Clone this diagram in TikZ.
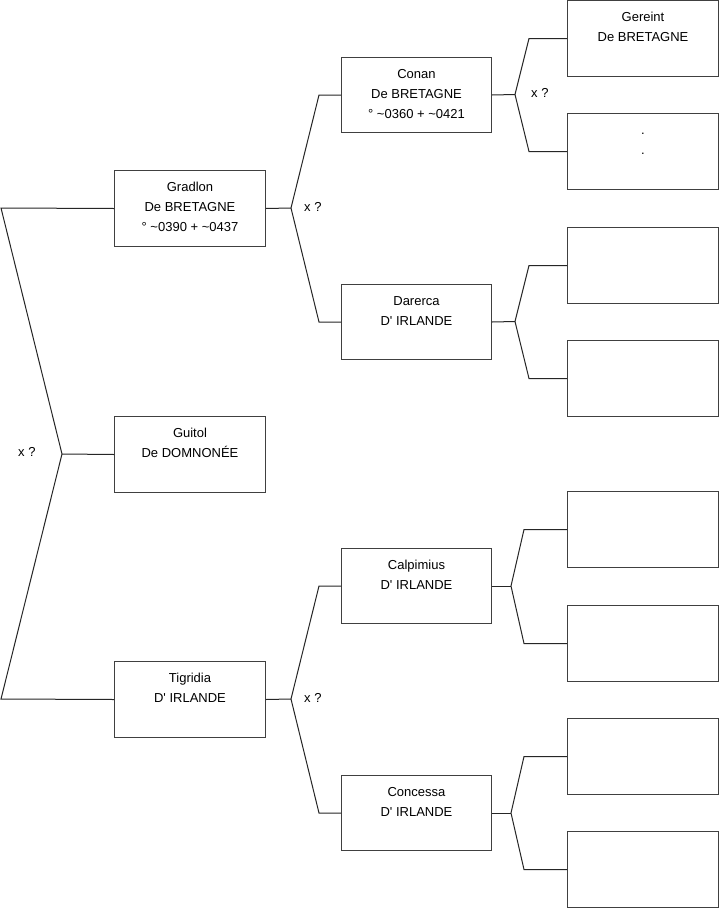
\documentclass[tikz,border=0pt]{standalone}
\usepackage{fontspec}
\setmainfont{Liberation Sans}[Ligatures=TeXOff]
\newcommand{\lignes}[1]{\begin{tabular}[t]{@{}c@{}}#1\end{tabular}}
\tikzset{
  fiche/.style={draw=black!75, line width=1pt, anchor=north west,
    minimum width=151pt, minimum height=76pt, inner xsep=2pt, inner ysep=0pt,
    text height=20.6pt, text depth=55.4pt,
    font=\fontsize{13}{20}\selectfont},
  fichem/.style={fiche, minimum width=150pt, minimum height=75pt, text depth=54.4pt},
  note/.style={anchor=west, inner sep=0pt, font=\fontsize{13}{20}\selectfont},
  lien/.style={draw=black!85, line width=1pt}
}
\begin{document}
\begin{tikzpicture}[x=1pt, y=-1pt]
    \path[use as bounding box, fill=white] (0,0) rectangle (719,908);

    % Première génération
    \node[fiche] (gradlon) at (114, 170) {\lignes{Gradlon\\De BRETAGNE\\° \textasciitilde0390 + \textasciitilde0437}};
    \node[fiche] (guitol) at (114, 416) {\lignes{Guitol\\De DOMNONÉE}};
    \node[fiche] (tigridia) at (114, 661) {\lignes{Tigridia\\D' IRLANDE}};

    % Parents
    \node[fichem] (conan) at (341, 57) {\lignes{Conan\\De BRETAGNE\\° \textasciitilde0360 + \textasciitilde0421}};
    \node[fichem] (darerca) at (341, 284) {\lignes{Darerca\\D' IRLANDE}};
    \node[fichem] (calpimius) at (341, 548) {\lignes{Calpimius\\D' IRLANDE}};
    \node[fichem] (concessa) at (341, 775) {\lignes{Concessa\\D' IRLANDE}};

    % Grands-parents
    \node[fiche] (gereint) at (567, 0) {\lignes{Gereint\\De BRETAGNE}};
    \node[fiche] (conanB) at (567, 113) {\lignes{.\\.}};
    \node[fiche] (darercaA) at (567, 227) {};
    \node[fiche] (darercaB) at (567, 340) {};
    \node[fiche] (calpA) at (567, 491) {};
    \node[fiche] (calpB) at (567, 605) {};
    \node[fiche] (concA) at (567, 718) {};
    \node[fiche] (concB) at (567, 831) {};

    % Mariages
    \node[note] (xq0) at (18, 452) {x ?};
    \node[note] (xq1) at (304, 207) {x ?};
    \node[note] (xq2) at (304, 698) {x ?};
    \node[note] (xq3) at (531, 93) {x ?};

    % Fourches
    \coordinate (f0) at (62, 454);
    \coordinate (f0h) at (1, 208);
    \coordinate (f0b) at (1, 699);
    \coordinate (f1) at (291, 208);
    \coordinate (f2) at (291, 699);
    \coordinate (f3) at (515, 94.5);
    \coordinate (f4) at (515, 321.5);
    \coordinate (f5) at (511, 586);
    \coordinate (f6) at (511, 813);

    % Liens
    \draw[lien] (gradlon.west) -- (f0h) -- (f0) -- (f0b) -- (tigridia.west);
    \draw[lien] (f0) -- (guitol.west);

    \draw[lien] (gradlon.east) -- (f1);
    \draw[lien] (conan.west) -- ([xshift=-22pt]conan.west) -- (f1) -- ([xshift=-22pt]darerca.west) -- (darerca.west);
    \draw[lien] (tigridia.east) -- (f2);
    \draw[lien] (calpimius.west) -- ([xshift=-22pt]calpimius.west) -- (f2) -- ([xshift=-22pt]concessa.west) -- (concessa.west);

    \draw[lien] (conan.east) -- (f3);
    \draw[lien] (gereint.west) -- ([xshift=-38pt]gereint.west) -- (f3) -- ([xshift=-38pt]conanB.west) -- (conanB.west);
    \draw[lien] (darerca.east) -- (f4);
    \draw[lien] (darercaA.west) -- ([xshift=-38pt]darercaA.west) -- (f4) -- ([xshift=-38pt]darercaB.west) -- (darercaB.west);
    \draw[lien] (calpimius.east) -- (f5);
    \draw[lien] (calpA.west) -- ([xshift=-43pt]calpA.west) -- (f5) -- ([xshift=-43pt]calpB.west) -- (calpB.west);
    \draw[lien] (concessa.east) -- (f6);
    \draw[lien] (concA.west) -- ([xshift=-43pt]concA.west) -- (f6) -- ([xshift=-43pt]concB.west) -- (concB.west);

\end{tikzpicture}
\end{document}
